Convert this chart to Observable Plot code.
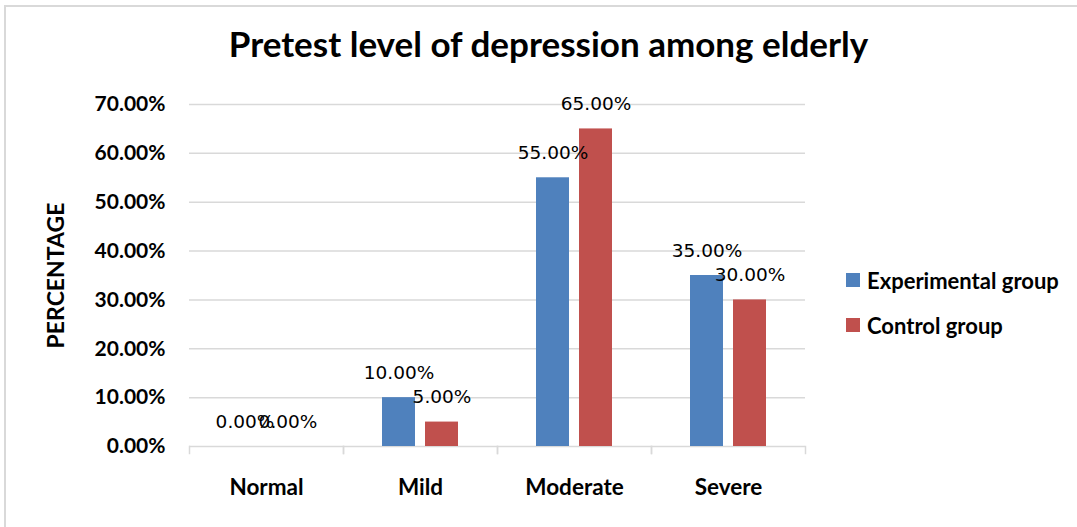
<!DOCTYPE html>
<html>
<head>
<meta charset="utf-8">
<script src="https://cdn.jsdelivr.net/npm/d3@7"></script>
<script src="https://cdn.jsdelivr.net/npm/@observablehq/plot@0.6"></script>
<style>
  html, body { margin: 0; padding: 0; background: #fff; overflow: hidden; }
  #wrap { position: relative; width: 1077px; height: 527px; overflow: hidden; font-family: Lato, sans-serif; }
  #border { position: absolute; left: 4px; top: 5px; width: 1200px; height: 700px; border: 2px solid #d9d9d9; box-sizing: border-box; }
  #title { position: absolute; left: 0; width: 1097px; top: 25px; text-align: center; font-weight: bold; font-size: 35px; line-height: 36px; color: #000; white-space: nowrap; }
  #legend { position: absolute; left: 846px; top: 266px; font-weight: bold; font-size: 22px; color: #000; }
  .item { display: flex; align-items: center; height: 28px; margin-bottom: 17px; white-space: nowrap; }
  .swatch { width: 14px; height: 14px; margin-right: 7px; flex: none; }
  #chart { position: absolute; left: 0; top: 0; }
  #chart svg g[aria-label="y-axis label"] text { font-weight: bold; font-size: 23px; }
</style>
</head>
<body>
<div id="wrap">
  <div id="border"></div>
  <div id="chart"></div>
  <div id="title"></div>
  <div id="legend"></div>
</div>
<script>
// Pretest level of depression among elderly, by group
const titleText = "Pretest level of depression among elderly";
const categories = ["Normal", "Mild", "Moderate", "Severe"];
const groups = ["Experimental group", "Control group"];
const experimental = [0.00, 0.10, 0.55, 0.35];
const control = [0.00, 0.05, 0.65, 0.30];
const yTicks = [0, 0.1, 0.2, 0.3, 0.4, 0.5, 0.6, 0.7];
const yLabel = "PERCENTAGE";
const colors = ["#4F81BD", "#C0504D"];

const rows = categories.flatMap((c, i) => [
  {category: c, group: groups[0], value: experimental[i]},
  {category: c, group: groups[1], value: control[i]}
]);

const pct = d3.format(".2%");

const W = 1077, H = 527;
const mL = 188, mR = 271, mT = 104, mB = 81;
const innerH = H - mT - mB;

const chart = Plot.plot({
  width: W,
  height: H,
  marginLeft: mL,
  marginRight: mR,
  marginTop: mT,
  marginBottom: mB,
  style: {fontFamily: "Lato, sans-serif", background: "transparent", color: "#000"},
  fx: {domain: categories, padding: 0, label: null},
  x: {domain: groups, paddingInner: 0.227, paddingOuter: 0.869, align: 0.5, axis: null},
  y: {domain: [0, 0.7], axis: null},
  color: {domain: groups, range: colors},
  marks: [
    Plot.gridY(yTicks, {stroke: "#d9d9d9", strokeOpacity: 1, strokeWidth: 1.5}),
    // short category separator ticks below the baseline
    Plot.frame({anchor: "left", insetTop: innerH, insetBottom: -7, stroke: "#d9d9d9", strokeWidth: 1.5}),
    Plot.frame({anchor: "right", insetTop: innerH, insetBottom: -7, stroke: "#d9d9d9", strokeWidth: 1.5}),
    Plot.barY(rows, {fx: "category", x: "group", y: "value", fill: "group"}),
    Plot.text(rows, {
      fx: "category", x: "group", y: "value",
      text: d => pct(d.value),
      dy: -24.5,
      fontSize: 18.5,
      fontFamily: "DejaVu Sans, sans-serif",
      fill: "#000"
    }),
    Plot.axisY(yTicks, {
      tickFormat: pct,
      tickSize: 0,
      tickPadding: 24,
      fontSize: 21,
      fontWeight: "bold",
      label: yLabel,
      labelAnchor: "center",
      labelArrow: false,
      labelOffset: 142
    }),
    Plot.axisFx({
      anchor: "bottom",
      tickSize: 0,
      tickPadding: 33,
      fontSize: 22.5,
      fontWeight: "bold",
      label: null
    })
  ]
});
document.getElementById("chart").appendChild(chart);

document.getElementById("title").textContent = titleText;
const legend = document.getElementById("legend");
groups.forEach((g, i) => {
  const item = document.createElement("div");
  item.className = "item";
  const sw = document.createElement("span");
  sw.className = "swatch";
  sw.style.background = colors[i];
  const lab = document.createElement("span");
  lab.textContent = g;
  item.appendChild(sw);
  item.appendChild(lab);
  legend.appendChild(item);
});
</script>
</body>
</html>
